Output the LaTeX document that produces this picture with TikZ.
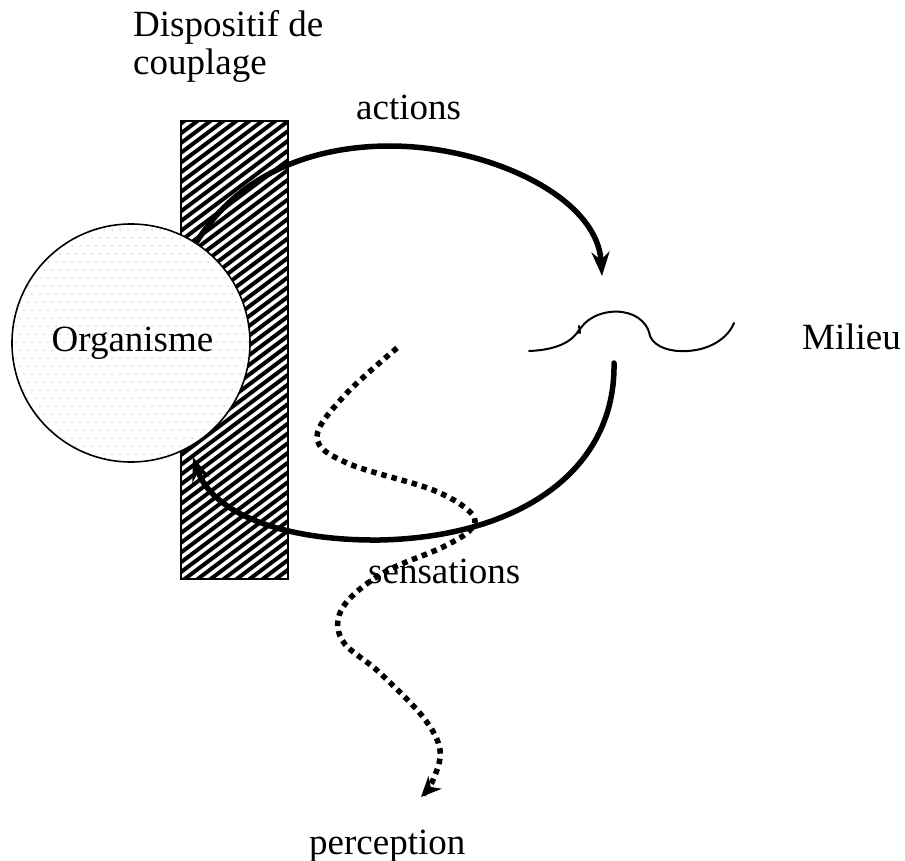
\documentclass[tikz,border=0pt]{standalone}
\usepackage{fontspec}
\setmainfont{Liberation Serif}
\usetikzlibrary{arrows.meta}
\begin{document}
\begin{tikzpicture}[x=1pt,y=-1pt,
  lbl/.style={anchor=base west, inner sep=0pt, font=\fontsize{37}{38.5}\selectfont, align=left},
  thickarc/.style={line width=5.5pt, -{Stealth[length=24pt,width=18pt,inset=8pt]}},
  dotline/.style={line width=5.5pt, dash pattern=on 5.5pt off 5pt, -{Stealth[length=20pt,width=18pt,inset=6pt]}},
  wave/.style={line width=2pt, line cap=round},
  hatchline/.style={line width=4pt},
  stipple/.style={fill=black!28}]
\useasboundingbox (0,0) rectangle (905,861);

% coupling device (hatched rectangle)
\node[draw=none, minimum width=107pt, minimum height=458pt, inner sep=0pt] (disp) at (234.5,350) {};
\begin{scope}
  \clip (disp.south west) rectangle (disp.north east);
  \foreach \i in {-480,-467,...,300} {
    \draw[hatchline] (\i,590) -- (\i+640,110);
  }
\end{scope}
\draw[line width=2.2pt] (disp.south west) rectangle (disp.north east);

% organism
\node[circle, minimum size=238pt, inner sep=0pt, fill=white] (orgbg) at (131,343) {};
\begin{scope}
  \clip (131,343) circle (119pt);
  \foreach \yy [count=\r] in {222,230,...,470} {
    \pgfmathsetmacro{\off}{mod(\r,2)*4}
    \foreach \xx in {8,16,...,256} {
      \fill[stipple] (\xx+\off,\yy) circle (0.75pt);
    }
  }
\end{scope}
\node[circle, minimum size=238pt, inner sep=0pt, draw, line width=1.6pt,
      font=\fontsize{37}{38.5}\selectfont] (org) at (131,343) {\hspace*{3pt}\raisebox{-1pt}{Organisme}};

% milieu
\coordinate (mw1) at (529,351);
\coordinate (mw2) at (579,330);
\coordinate (mw3) at (650,336);
\coordinate (mw4) at (687,351);
\coordinate (mw5) at (734,323);
\draw[wave] (mw1) .. controls (556,350) and (572,342) .. (mw2);
\draw[wave] (579,326) -- (580,333);
\draw[wave] (578,333) .. controls (590,305) and (644,303) .. (mw3)
  .. controls (655,348) and (672,352) .. (mw4)
  .. controls (710,350) and (728,338) .. (mw5);

% actions arc
\coordinate (actEnd) at (602,276);
\coordinate (actTop) at (390,146);
\draw[thickarc] (org.57) .. controls (240,172) and (315,146) .. (actTop)
  .. controls (485,146) and (597,195) .. (actEnd);

% sensations arc
\coordinate (senStart) at (614,363);
\coordinate (senLow) at (380,540);
\coordinate (senEnd) at (193,457);
\draw[thickarc, line cap=round] (senStart) .. controls (616,470) and (520,537) .. (senLow)
  .. controls (280,541) and (212,512) .. (senEnd);

% perception dotted path
\draw[dotline] plot[smooth, tension=0.6] coordinates {
  (397,348) (345,395) (317,437) (347,463) (433,490) (471,513) (471,529)
  (443,547) (383,573) (343,607) (342,640) (380,673) (423,717) (440,750) (433,780) (421,797)};

% labels
\node[lbl] (tdisp) at (133,75) {Dispositif de\\couplage};
\node[lbl] (tact) at (356,120) {actions};
\node[lbl] (tmil) at (802,349) {Milieu};
\node[lbl] (tsen) at (368,583) {sensations};
\node[lbl] (tper) at (309,854) {perception};
\end{tikzpicture}
\end{document}
